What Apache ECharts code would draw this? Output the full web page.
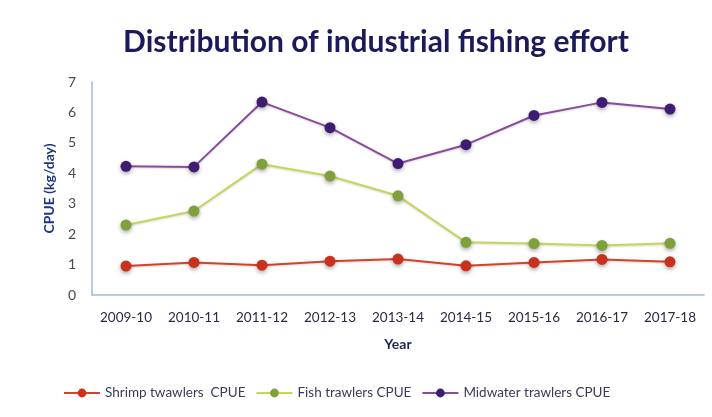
<!DOCTYPE html>
<html>
<head>
<meta charset="utf-8">
<script src="https://cdn.jsdelivr.net/npm/echarts@6/dist/echarts.min.js"></script>
<style>
  html, body { margin: 0; padding: 0; background: #ffffff; }
  #chart { width: 712px; height: 417px; }
</style>
</head>
<body>
<div id="chart"></div>
<script>
// Fishing seasons on the x axis
const years = ['2009-10', '2010-11', '2011-12', '2012-13', '2013-14', '2014-15', '2015-16', '2016-17', '2017-18'];

// Catch per unit effort (kg/day) by fleet
const shrimpCPUE   = [0.95, 1.07, 0.98, 1.11, 1.18, 0.96, 1.07, 1.17, 1.09];
const fishCPUE     = [2.30, 2.76, 4.30, 3.91, 3.26, 1.73, 1.69, 1.63, 1.70];
const midwaterCPUE = [4.23, 4.21, 6.34, 5.50, 4.32, 4.94, 5.90, 6.33, 6.11];

const yTicks = [0, 1, 2, 3, 4, 5, 6, 7];

const font = 'Lato, "Open Sans", sans-serif';

function fleet(name, data, lineColor, dotColor) {
  return {
    name: name,
    type: 'line',
    data: data,
    symbol: 'circle',
    symbolSize: 11,
    lineStyle: { color: lineColor, width: 2, shadowColor: 'rgba(0,0,0,0.15)', shadowBlur: 2, shadowOffsetY: 1 },
    itemStyle: { color: dotColor, shadowColor: 'rgba(0,0,0,0.35)', shadowBlur: 4, shadowOffsetY: 2 }
  };
}

const chart = echarts.init(document.getElementById('chart'));
chart.setOption({
  backgroundColor: '#ffffff',
  animation: false,
  title: {
    text: 'Distribution of industrial fishing effort',
    left: 371,
    textAlign: 'center',
    top: 22,
    textStyle: { fontFamily: font, fontWeight: 'bold', fontSize: 30, color: '#1b1b5c' }
  },
  legend: {
    bottom: 12,
    left: 58,
    itemWidth: 36,
    itemHeight: 11,
    itemGap: 10,
    textStyle: { fontFamily: font, fontSize: 13.5, color: '#3a3a5a' },
    data: ['Shrimp twawlers  CPUE', 'Fish trawlers CPUE', 'Midwater trawlers CPUE']
  },
  grid: { left: 92, right: 8, top: 82, bottom: 122 },
  xAxis: {
    type: 'category',
    data: years,
    boundaryGap: true,
    name: 'Year',
    nameLocation: 'middle',
    nameGap: 42,
    nameTextStyle: { fontFamily: font, fontWeight: 'bold', fontSize: 14, color: '#1f2550' },
    axisLine: { lineStyle: { color: '#9dbbe0', width: 1.5 } },
    axisTick: { show: false },
    axisLabel: { interval: 0, fontFamily: font, fontSize: 13.5, color: '#2a2a48', margin: 16 }
  },
  yAxis: {
    type: 'value',
    min: yTicks[0],
    max: yTicks[yTicks.length - 1],
    interval: 1,
    name: 'CPUE (kg/day)',
    nameLocation: 'middle',
    nameGap: 24,
    nameTextStyle: { fontFamily: font, fontWeight: 'bold', fontSize: 14, color: '#1f3585' },
    axisLine: { show: true, lineStyle: { color: '#9dbbe0', width: 1.5 } },
    axisTick: { show: false },
    splitLine: { show: false },
    axisLabel: { fontFamily: font, fontSize: 14, color: '#4a4a4a', margin: 16 }
  },
  series: [
    fleet('Shrimp twawlers  CPUE', shrimpCPUE, '#d8402a', '#c8321c'),
    fleet('Fish trawlers CPUE', fishCPUE, '#c9d45a', '#7fa03a'),
    fleet('Midwater trawlers CPUE', midwaterCPUE, '#8a4a9e', '#3d1c72')
  ]
});
</script>
</body>
</html>
